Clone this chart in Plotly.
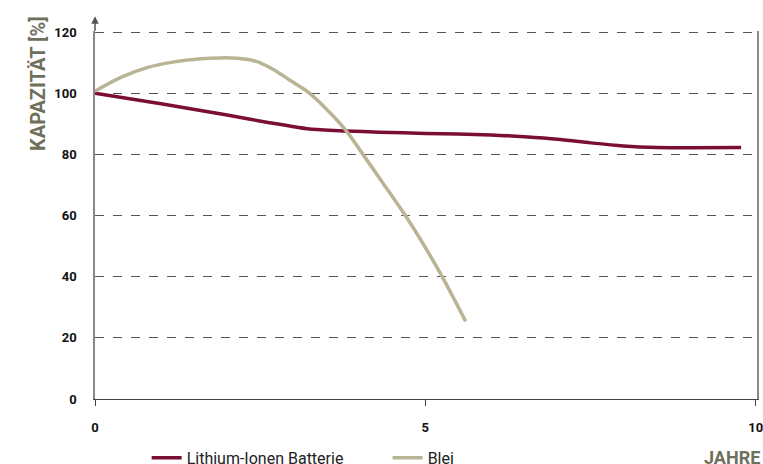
import plotly.graph_objects as go

# Data
li_years = [0, 1, 2, 2.64, 3.25, 3.8, 4.3, 5, 6, 6.5, 7, 7.5, 8, 8.5, 9, 9.78]
li_capacity = [100, 96.6, 92.9, 90.4, 88.3, 87.7, 87.3, 86.9, 86.4, 85.8, 85.0, 83.8, 82.8, 82.3, 82.2, 82.3]

pb_years = [0, 0.4, 0.8, 1.2, 1.6, 1.9, 2.15, 2.34, 2.5, 2.7, 2.95, 3.25, 3.55, 3.8, 4.05,
            4.36, 4.71, 5.01, 5.24, 5.61]
pb_capacity = [100.7, 105.3, 108.5, 110.3, 111.3, 111.6, 111.5, 111.0, 110.0, 107.8, 104.3, 100,
               93.8, 87.8, 80.2, 70.6, 59.6, 49.2, 40.6, 25.4]

x_ticks = [0, 5, 10]
y_ticks = [0, 20, 40, 60, 80, 100, 120]

LI_COLOR = "#7b0f32"
PB_COLOR = "#b8b494"
TITLE_COLOR = "#6f705c"
FONT = "Roboto, Arial, sans-serif"

fig = go.Figure()
fig.add_trace(go.Scatter(x=li_years, y=li_capacity, mode="lines",
                         name="Lithium-Ionen Batterie",
                         line=dict(color=LI_COLOR, width=3.5, shape="spline", smoothing=0.7)))
fig.add_trace(go.Scatter(x=pb_years, y=pb_capacity, mode="lines",
                         name="Blei",
                         line=dict(color=PB_COLOR, width=3.5, shape="spline", smoothing=1.0)))

fig.update_layout(
    width=763, height=464,
    margin=dict(l=95, r=6, t=31, b=65, autoexpand=False),
    plot_bgcolor="white", paper_bgcolor="white",
    showlegend=True,
    legend=dict(orientation="h", x=0.078, xanchor="left", y=-0.16, yanchor="middle",
                font=dict(family=FONT, size=16, color="#222"),
                entrywidth=196, entrywidthmode="pixels",
                bgcolor="rgba(0,0,0,0)"),
    xaxis=dict(range=[0, 10.02], tickvals=x_ticks, ticktext=[str(v) for v in x_ticks],
               showgrid=False, zeroline=False, automargin=False,
               showline=True, linecolor="#444", linewidth=1.2,
               ticks="outside", ticklen=6, tickcolor="#444",
               ticklabelstandoff=10, ticklabeloverflow="allow",
               tickfont=dict(family=FONT, size=13, color="#111", weight="bold")),
    yaxis=dict(range=[0, 120.4], tickvals=y_ticks, ticktext=[str(v) for v in y_ticks],
               showgrid=True, gridcolor="#555", griddash="dash", gridwidth=1,
               zeroline=False, automargin=False,
               showline=True, linecolor="#888", linewidth=1.5, mirror=True,
               ticks="", ticklabelstandoff=14,
               tickfont=dict(family=FONT, size=13, color="#111", weight="bold")),
)

# arrow on top of y-axis
fig.add_annotation(xref="x", yref="paper", x=0, y=1.04, ax=0, ay=16,
                   showarrow=True, arrowhead=2, arrowsize=1, arrowwidth=1.5,
                   arrowcolor="#555", text="")

fig.add_annotation(xref="paper", yref="paper", x=-0.086, y=1.045,
                   xanchor="center", yanchor="top", textangle=-90, showarrow=False,
                   text="<b>KAPAZITÄT [%]</b>",
                   font=dict(family=FONT, size=20, color=TITLE_COLOR))

fig.add_annotation(xref="paper", yref="paper", x=1.008, y=-0.16,
                   xanchor="right", yanchor="middle", showarrow=False,
                   text="<b>JAHRE</b>",
                   font=dict(family=FONT, size=18, color=TITLE_COLOR))

fig.write_html("out.html", config={"displayModeBar": False},
               post_script="document.body.style.margin='0';document.body.style.overflow='hidden';")
